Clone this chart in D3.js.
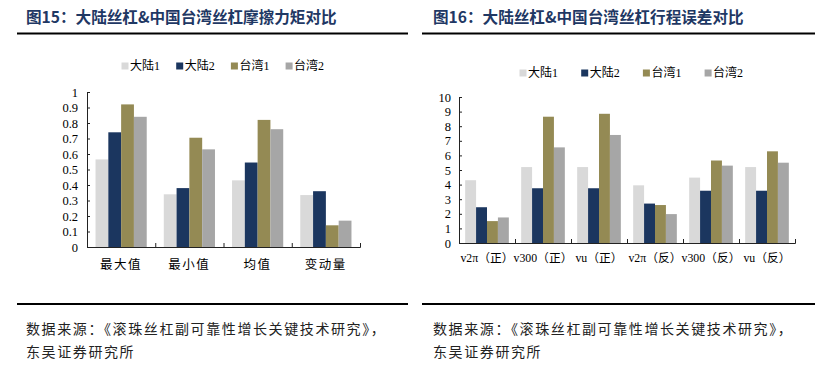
<!DOCTYPE html>
<html>
<head>
<meta charset="utf-8">
<script src="https://cdn.jsdelivr.net/npm/d3@7"></script>
<style>
  body { margin: 0; background: #fff; }
  svg { display: block; }
  text { font-family: "Liberation Serif", "Noto Sans CJK SC", serif; }
</style>
</head>
<body>
<svg id="canvas" width="823" height="384"></svg>
<script>
// Series names & colors
let seriesNames = ['大陆1', '大陆2', '台湾1', '台湾2'];
let seriesColors = ['#D9D9D9', '#1B365F', '#948A54', '#A6A6A6'];

// Fig 15: friction torque
let categories15 = ['最大值', '最小值', '均值', '变动量'];
let values15 = [
    [0.565, 0.74, 0.92, 0.84],
    [0.34, 0.38, 0.705, 0.63],
    [0.43, 0.545, 0.82, 0.76],
    [0.335, 0.36, 0.14, 0.17]
];
let ticks15 = [0, 0.1, 0.2, 0.3, 0.4, 0.5, 0.6, 0.7, 0.8, 0.9, 1];

// Fig 16: travel error
let categories16 = ['v2π（正）', 'v300（正）', 'vu（正）', 'v2π（反）', 'v300（反）', 'vu（反）'];
let values16 = [
    [4.3, 2.45, 1.5, 1.75],
    [5.2, 3.75, 8.65, 6.55],
    [5.2, 3.75, 8.85, 7.4],
    [3.95, 2.7, 2.6, 1.98],
    [4.48, 3.58, 5.65, 5.3],
    [5.2, 3.58, 6.28, 5.5]
];
let ticks16 = [0, 1, 2, 3, 4, 5, 6, 7, 8, 9, 10];

let titles = ['图15：大陆丝杠&中国台湾丝杠摩擦力矩对比', '图16：大陆丝杠&中国台湾丝杠行程误差对比'];
let sourceLines = ['数据来源：《滚珠丝杠副可靠性增长关键技术研究》，', '东吴证券研究所'];

let canvas = d3.select('#canvas');

// Panel frame: title, rules, source
let drawFrame = (x0, x1, textX, title) => {
    canvas.append('text')
        .attr('x', textX).attr('y', 23)
        .attr('font-size', 15.6).attr('font-weight', 'bold')
        .attr('fill', '#1F3864')
        .style('font-family', '"Noto Sans CJK SC", sans-serif')
        .text(title);
    [33.5, 304].forEach((y) => {
        canvas.append('line')
            .attr('x1', x0).attr('x2', x1).attr('y1', y).attr('y2', y)
            .attr('stroke', '#000').attr('stroke-width', 2.2);
    });
    sourceLines.forEach((s, i) => {
        canvas.append('text')
            .attr('x', textX).attr('y', 334 + i * 23)
            .attr('font-size', 14).attr('fill', '#222')
            .attr('letter-spacing', 1.6)
            .style('font-family', '"Noto Sans CJK SC", sans-serif')
            .text(s);
    });
};

// Grouped bar chart
let drawChart = (cfg) => {
    let g = canvas.append('g');
    let x = d3.scaleBand().domain(cfg.categories).range(cfg.xRange);
    let pad = x.bandwidth() * cfg.pad;
    let x1 = d3.scaleBand().domain(seriesNames).range([pad, x.bandwidth() - pad]);
    let y = d3.scaleLinear().domain(cfg.yDomain).range(cfg.yRange);

    // bars
    g.selectAll('g.grp')
        .data(cfg.values)
        .enter()
        .append('g')
        .attr('transform', (d, i) => `translate(${x(cfg.categories[i])},0)`)
        .selectAll('rect')
        .data((d) => d.map((v, j) => ({ v: v, s: seriesNames[j], c: seriesColors[j] })))
        .enter()
        .append('rect')
        .attr('x', (d) => x1(d.s))
        .attr('width', x1.bandwidth())
        .attr('y', (d) => y(d.v))
        .attr('height', (d) => y(0) - y(d.v))
        .attr('fill', (d) => d.c);

    // y axis (ticks inward)
    let yAxis = g.append('g')
        .attr('transform', `translate(${cfg.xRange[0]},0)`)
        .call(d3.axisRight(y).tickValues(cfg.ticks).tickSize(3).tickFormat(String));
    yAxis.selectAll('text')
        .attr('x', -cfg.labelGap).attr('text-anchor', 'end')
        .attr('font-size', 12.5).attr('fill', '#000');

    // x axis with boundary ticks (inward)
    let xb = d3.scaleLinear().domain([0, cfg.categories.length]).range(cfg.xRange);
    g.append('g')
        .attr('transform', `translate(0,${y(0)})`)
        .call(d3.axisTop(xb).tickValues(d3.range(1, cfg.categories.length + 1)).tickSize(4).tickFormat(''));
    g.selectAll('.domain').attr('stroke', '#222');
    g.selectAll('.tick line').attr('stroke', '#222');

    // category labels
    g.selectAll('text.cat')
        .data(cfg.categories)
        .enter()
        .append('text')
        .attr('class', 'cat')
        .attr('x', (d) => x(d) + x.bandwidth() / 2)
        .attr('y', cfg.labelY)
        .attr('text-anchor', 'middle')
        .attr('font-size', cfg.labelSize)
        .attr('letter-spacing', cfg.labelSpacing)
        .attr('fill', '#000')
        .text((d) => d);

    // legend
    let lg = g.selectAll('g.leg')
        .data(seriesNames)
        .enter()
        .append('g')
        .attr('transform', (d, i) => `translate(${cfg.legendX + i * cfg.legendStep},${cfg.legendY})`);
    lg.append('rect')
        .attr('x', -3.5).attr('y', -3.5).attr('width', 7).attr('height', 7)
        .attr('fill', (d, i) => seriesColors[i]);
    lg.append('text')
        .attr('x', 5).attr('y', 4)
        .attr('font-size', 12).attr('fill', '#000')
        .text((d) => d);
};

drawFrame(17, 408, 26, titles[0]);
drawFrame(422, 815, 433, titles[1]);

drawChart({
    categories: categories15, values: values15, ticks: ticks15,
    xRange: [87, 360], yRange: [247, 92], yDomain: [0, 1], pad: 0.125,
    labelGap: 9, labelY: 269, labelSize: 12.5, labelSpacing: 1.5,
    legendX: 125, legendY: 66, legendStep: 54.7
});

drawChart({
    categories: categories16, values: values16, ticks: ticks16,
    xRange: [459, 795], yRange: [243, 97], yDomain: [0, 10], pad: 0.11,
    labelGap: 8, labelY: 262, labelSize: 11.8, labelSpacing: 0,
    legendX: 523, legendY: 73, legendStep: 61.7
});
</script>
</body>
</html>
